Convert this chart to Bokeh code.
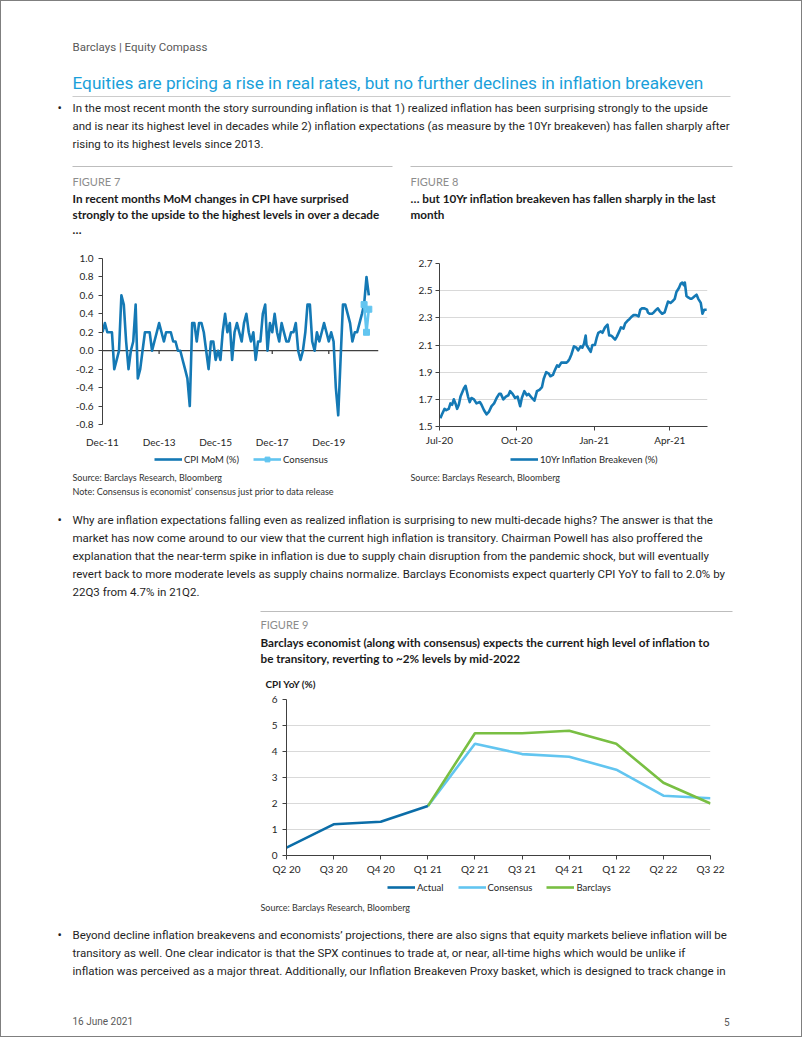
from bokeh.plotting import figure
from bokeh.layouts import column, row
from bokeh.models import (Range1d, FixedTicker, DatetimeTickFormatter, NumeralTickFormatter,
                          Legend, LegendItem, Span)
from bokeh.core.properties import value
from bokeh.embed import file_html
from bokeh.resources import INLINE
import pandas as pd

# ---------------- data ----------------
# Figure 7: CPI MoM (%), monthly from Dec-11
cpi_start = "2011-12-01"
cpi_mom = [0.2,
           0.3, 0.2, 0.2, 0.2, -0.2, -0.1, 0.0, 0.6, 0.5, 0.1, -0.2, 0.0,
           0.1, 0.5, -0.3, -0.2, 0.0, 0.2, 0.2, 0.2, 0.0, 0.1, 0.2, 0.3,
           0.2, 0.1, 0.2, 0.2, 0.2, 0.1, 0.1, 0.0, 0.0, -0.1, -0.2, -0.3,
           -0.6, 0.3, 0.3, 0.1, 0.3, 0.3, 0.2, 0.0, -0.2, 0.1, 0.1, -0.1,
           0.0, -0.1, 0.2, 0.4, 0.2, 0.3, -0.1, 0.2, 0.3, 0.2, 0.1, 0.3,
           0.4, 0.2, 0.1, 0.2, -0.1, 0.1, 0.1, 0.4, 0.5, 0.0, 0.3, 0.2,
           0.4, 0.2, 0.1, 0.3, 0.2, 0.1, 0.1, 0.2, 0.2, 0.3, 0.0, -0.1,
           0.0, 0.2, 0.5, 0.5, 0.1, 0.0, 0.2, 0.1, 0.2, 0.3, 0.2, 0.1,
           0.2, 0.1, -0.4, -0.7, -0.1, 0.5, 0.5, 0.4, 0.3, 0.1, 0.2, 0.2,
           0.3, 0.4, 0.5, 0.8, 0.6]
consensus_months = ["2021-03-01", "2021-04-01", "2021-05-01"]
consensus_mom = [0.5, 0.2, 0.45]
cpi_xticks = ["2011-12-01", "2013-12-01", "2015-12-01", "2017-12-01", "2019-12-01"]
cpi_yticks = [-0.8, -0.6, -0.4, -0.2, 0.0, 0.2, 0.4, 0.6, 0.8, 1.0]

# Figure 8: 10Yr inflation breakeven (%)
be_dates = ["2020-07-02", "2020-07-04", "2020-07-07", "2020-07-09", "2020-07-12", "2020-07-14",
            "2020-07-16", "2020-07-18", "2020-07-20", "2020-07-22", "2020-07-24", "2020-07-26",
            "2020-07-30", "2020-08-01", "2020-08-04", "2020-08-06", "2020-08-08", "2020-08-11",
            "2020-08-14", "2020-08-18", "2020-08-20", "2020-08-23", "2020-08-26", "2020-08-29",
            "2020-09-01", "2020-09-04", "2020-09-07", "2020-09-10", "2020-09-12", "2020-09-15",
            "2020-09-18", "2020-09-21", "2020-09-23", "2020-09-26", "2020-09-29", "2020-10-02",
            "2020-10-05", "2020-10-07", "2020-10-10", "2020-10-13", "2020-10-15", "2020-10-19",
            "2020-10-22", "2020-10-25", "2020-10-28", "2020-10-31", "2020-11-02", "2020-11-05",
            "2020-11-08", "2020-11-10", "2020-11-13", "2020-11-15", "2020-11-18", "2020-11-20",
            "2020-11-23", "2020-11-25", "2020-11-29", "2020-12-01", "2020-12-03", "2020-12-05",
            "2020-12-08", "2020-12-11", "2020-12-13", "2020-12-16", "2020-12-18", "2020-12-20",
            "2020-12-22", "2020-12-23", "2020-12-25", "2020-12-28", "2020-12-30", "2021-01-02",
            "2021-01-04", "2021-01-06", "2021-01-09", "2021-01-11", "2021-01-14", "2021-01-17",
            "2021-01-19", "2021-01-21", "2021-01-23", "2021-01-26", "2021-01-28", "2021-01-31",
            "2021-02-02", "2021-02-05", "2021-02-07", "2021-02-10", "2021-02-12", "2021-02-15",
            "2021-02-17", "2021-02-20", "2021-02-23", "2021-02-25", "2021-02-27", "2021-03-02",
            "2021-03-05", "2021-03-06", "2021-03-08", "2021-03-11", "2021-03-13", "2021-03-16",
            "2021-03-18", "2021-03-20", "2021-03-23", "2021-03-26", "2021-03-28", "2021-03-30",
            "2021-04-02", "2021-04-04", "2021-04-07", "2021-04-09", "2021-04-12", "2021-04-14",
            "2021-04-16", "2021-04-18", "2021-04-19", "2021-04-21", "2021-04-23", "2021-04-26",
            "2021-04-27", "2021-04-29", "2021-05-01", "2021-05-03", "2021-05-05", "2021-05-08",
            "2021-05-10", "2021-05-12", "2021-05-15"]
be_values = [1.56, 1.59, 1.63, 1.62, 1.63, 1.67,
             1.66, 1.70, 1.67, 1.63, 1.66, 1.72,
             1.78, 1.80, 1.72, 1.68, 1.71, 1.70,
             1.67, 1.68, 1.66, 1.62, 1.59, 1.61,
             1.65, 1.67, 1.71, 1.74, 1.74, 1.70,
             1.72, 1.73, 1.76, 1.74, 1.71, 1.72,
             1.65, 1.71, 1.76, 1.73, 1.74, 1.71,
             1.69, 1.76, 1.77, 1.79, 1.85, 1.90,
             1.89, 1.87, 1.88, 1.91, 1.95, 1.94,
             1.97, 1.97, 1.97, 1.98, 2.00, 2.03,
             2.09, 2.08, 2.06, 2.09, 2.08, 2.11,
             2.17, 2.10, 2.08, 2.05, 2.10, 2.10,
             2.15, 2.19, 2.20, 2.19, 2.23, 2.25,
             2.17, 2.17, 2.16, 2.14, 2.16, 2.20,
             2.23, 2.22, 2.26, 2.28, 2.29, 2.31,
             2.32, 2.32, 2.31, 2.36, 2.37, 2.37,
             2.36, 2.34, 2.33, 2.33, 2.34, 2.36,
             2.37, 2.35, 2.33, 2.34, 2.38, 2.42,
             2.41, 2.42, 2.44, 2.49, 2.52, 2.55,
             2.56, 2.54, 2.56, 2.46, 2.45, 2.44,
             2.44, 2.45, 2.46, 2.47, 2.44, 2.41,
             2.33, 2.36, 2.36]
be_xticks = ["2020-07-01", "2020-10-01", "2021-01-01", "2021-04-01"]
be_yticks = [1.5, 1.7, 1.9, 2.1, 2.3, 2.5, 2.7]

# Figure 9: CPI YoY (%)
quarters = ["Q2 20", "Q3 20", "Q4 20", "Q1 21", "Q2 21", "Q3 21", "Q4 21", "Q1 22", "Q2 22", "Q3 22"]
actual_q = ["Q2 20", "Q3 20", "Q4 20", "Q1 21"]
actual = [0.3, 1.2, 1.3, 1.9]
forecast_q = ["Q1 21", "Q2 21", "Q3 21", "Q4 21", "Q1 22", "Q2 22", "Q3 22"]
consensus = [1.9, 4.3, 3.9, 3.8, 3.3, 2.3, 2.2]
barclays = [1.9, 4.7, 4.7, 4.8, 4.3, 2.8, 2.0]
yoy_yticks = [0, 1, 2, 3, 4, 5, 6]

# ---------------- texts ----------------
HEADER = "Barclays | Equity Compass"
TITLE = "Equities are pricing a rise in real rates, but no further declines in inflation breakeven"
P1 = ["In the most recent month the story surrounding inflation is that 1) realized inflation has been surprising strongly to the upside",
      "and is near its highest level in decades while 2) inflation expectations (as measure by the 10Yr breakeven) has fallen sharply after",
      "rising to its highest levels since 2013."]
FIG7_TITLE = ["In recent months MoM changes in CPI have surprised",
              "strongly to the upside to the highest levels in over a decade",
              "\u2026"]
FIG8_TITLE = ["\u2026 but 10Yr inflation breakeven has fallen sharply in the last", "month"]
SOURCE = "Source: Barclays Research, Bloomberg"
NOTE7 = "Note: Consensus is economist\u2019 consensus just prior to data release"
P2 = ["Why are inflation expectations falling even as realized inflation is surprising to new multi-decade highs? The answer is that the",
      "market has now come around to our view that the current high inflation is transitory. Chairman Powell has also proffered the",
      "explanation that the near-term spike in inflation is due to supply chain disruption from the pandemic shock, but will eventually",
      "revert back to more moderate levels as supply chains normalize. Barclays Economists expect quarterly CPI YoY to fall to 2.0% by",
      "22Q3 from 4.7% in 21Q2."]
FIG9_TITLE = ["Barclays economist (along with consensus) expects the current high level of inflation to",
              "be transitory, reverting to ~2% levels by mid-2022"]
P3 = ["Beyond decline inflation breakevens and economists\u2019 projections, there are also signs that equity markets believe inflation will be",
      "transitory as well. One clear indicator is that the SPX continues to trade at, or near, all-time highs which would be unlike if",
      "inflation was perceived as a major threat. Additionally, our Inflation Breakeven Proxy basket, which is designed to track change in"]
DATE = "16 June 2021"
PAGE = "5"

# ---------------- styles ----------------
BODY = "Roboto"
CH = "Lato"
TXT = "#1f1f1f"
BLUE = "#1479B5"
DARK_BLUE = "#0B6DA8"
LIGHT_BLUE = "#62C5F0"
GREEN = "#79BF43"
AXIS = "#404040"
GRID = "#D9D9D9"
BODY_SIZE = "11.5px"
FIGT_SIZE = "11.7px"
LW = 2.6
OFF = [-50, -40]   # legend proxy glyphs sit outside the visible canvas


def text_fig(w, h):
    p = figure(width=w, height=h, x_range=Range1d(0, w), y_range=Range1d(h, 0),
               output_backend="svg", toolbar_location=None, min_border=0,
               x_axis_location=None, y_axis_location=None, frame_align=False)
    p.grid.visible = False
    p.outline_line_color = None
    p.background_fill_color = None
    p.border_fill_color = None
    return p


def put(p, xs, ys, texts, font, size, color, style="normal", align="left"):
    p.text(x=xs, y=ys, text=texts, text_font=value(font), text_font_size=size,
           text_color=color, text_font_style=style, text_align=align,
           text_baseline="middle")


def style_axes(p):
    p.grid.visible = False
    p.outline_line_color = None
    p.background_fill_color = None
    p.border_fill_color = None
    p.axis.major_label_text_font = CH
    p.axis.major_label_text_font_size = "10px"
    p.axis.major_label_text_color = "#262626"
    p.axis.axis_line_color = AXIS
    p.axis.major_tick_line_color = AXIS
    p.axis.minor_tick_line_color = None
    p.axis.major_tick_in = 0
    p.axis.major_tick_out = 4


def make_legend(items, loc):
    return Legend(items=items, orientation="horizontal", location=loc,
                  border_line_color=None, background_fill_alpha=0, padding=0, margin=0,
                  spacing=14, label_standoff=2, glyph_width=28, glyph_height=12,
                  label_height=12, label_text_font=CH, label_text_font_size="9.5px",
                  label_text_color="#262626")


def proxy_line(p, color):
    return p.line(x=OFF, y=OFF, line_color=color, line_width=LW)


def ms(d):
    return pd.Timestamp(d).value / 1e6


# ---------------- section A (0-250): header / paragraph / figure 7-8 titles ----------------
A = text_fig(802, 250)
put(A, [72], [46], [HEADER], BODY, "11.5px", "#595959")
put(A, [72], [82], [TITLE], BODY, "17.2px", "#1A9FDA")
A.segment(x0=[72], y0=[96], x1=[730], y1=[96], line_color="#cccccc", line_width=1)
put(A, [57], [107], ["\u2022"], BODY, "13px", TXT)
put(A, [72] * 3, [107, 125, 143], P1, BODY, BODY_SIZE, TXT)
A.segment(x0=[72, 410], y0=[166, 166], x1=[392, 732], y1=[166, 166], line_color="#bdbdbd", line_width=1)
put(A, [72, 410], [181, 181], ["FIGURE 7", "FIGURE 8"], CH, "11px", "#8c8c8c")
put(A, [72] * 3, [197, 213, 228], FIG7_TITLE, CH, FIGT_SIZE, "#1a1a1a", "bold")
put(A, [410] * 2, [197, 213], FIG8_TITLE, CH, FIGT_SIZE, "#1a1a1a", "bold")

# ---------------- Figure 7 (250-450, left) ----------------
cpi_dates = pd.date_range(cpi_start, periods=len(cpi_mom), freq="MS")
p7 = figure(width=401, height=200, x_axis_type="datetime",
            x_range=Range1d(pd.Timestamp(cpi_start), pd.Timestamp("2021-09-03")),
            y_range=Range1d(-0.8, 1.0), output_backend="svg", toolbar_location=None,
            min_border_left=102, min_border_right=23, min_border_top=8, min_border_bottom=20,
            frame_align=False)
style_axes(p7)
p7.xaxis.ticker = FixedTicker(ticks=[ms(t) for t in cpi_xticks])
p7.xaxis.formatter = DatetimeTickFormatter(years="%b-%y", months="%b-%y", days="%b-%y")
p7.xaxis.axis_line_color = None
p7.xaxis.major_tick_line_color = None
p7.xaxis.major_label_standoff = 7
p7.yaxis.ticker = FixedTicker(ticks=cpi_yticks)
p7.yaxis.formatter = NumeralTickFormatter(format="0.0")
p7.yaxis.major_label_standoff = 5
zero = Span(location=0, dimension="width", line_color=AXIS, line_width=1.3, level="underlay")
p7.add_layout(zero)
tick_x = [pd.Timestamp(t) for t in cpi_xticks[1:]]
p7.segment(x0=tick_x, y0=[0] * len(tick_x), x1=tick_x, y1=[-0.035] * len(tick_x),
           line_color=AXIS, line_width=1.3)
p7.line(cpi_dates, cpi_mom, line_color=BLUE, line_width=LW, line_join="round")
cons_dates = pd.to_datetime(consensus_months)
p7.line(cons_dates, consensus_mom, line_color=LIGHT_BLUE, line_width=LW)
p7.scatter(cons_dates, consensus_mom, marker="square", size=6,
           fill_color=LIGHT_BLUE, line_color=LIGHT_BLUE)

# ---------------- Figure 8 (250-450, right) ----------------
p8 = figure(width=401, height=200, x_axis_type="datetime",
            x_range=Range1d(pd.Timestamp("2020-07-01"), pd.Timestamp("2021-05-16")),
            y_range=Range1d(1.5, 2.7), output_backend="svg", toolbar_location=None,
            min_border_left=38, min_border_right=95, min_border_top=13, min_border_bottom=24,
            frame_align=False)
style_axes(p8)
p8.ygrid.visible = True
p8.ygrid.grid_line_color = GRID
p8.xaxis.ticker = FixedTicker(ticks=[ms(t) for t in be_xticks])
p8.xaxis.formatter = DatetimeTickFormatter(years="%b-%y", months="%b-%y", days="%b-%y")
p8.xaxis.major_label_standoff = 3
p8.yaxis.ticker = FixedTicker(ticks=be_yticks)
p8.yaxis.formatter = NumeralTickFormatter(format="0.0")
p8.yaxis.major_label_standoff = 3
p8.line(pd.to_datetime(be_dates), be_values, line_color=BLUE, line_width=LW, line_join="round")

# ---------------- section C (450-665): legends 7/8, sources, paragraph 2, figure 9 title ----------------
C = text_fig(802, 215)
k_cpi = proxy_line(C, BLUE)
k_cons_l = proxy_line(C, LIGHT_BLUE)
k_cons_m = C.scatter(x=OFF, y=OFF, marker="square", size=6, fill_color=LIGHT_BLUE, line_color=LIGHT_BLUE)
k_be = proxy_line(C, BLUE)
C.add_layout(make_legend([LegendItem(label="CPI MoM (%)", renderers=[k_cpi]),
                          LegendItem(label="Consensus", renderers=[k_cons_l, k_cons_m])], (154, 200)))
C.add_layout(make_legend([LegendItem(label="10Yr Inflation Breakeven (%)", renderers=[k_be])], (510, 200)))
put(C, [72, 410], [27, 27], [SOURCE, SOURCE], CH, "9px", "#333333")
put(C, [72], [41], [NOTE7], CH, "9px", "#333333")
put(C, [57], [69], ["\u2022"], BODY, "13px", TXT)
put(C, [72] * 5, [69, 87, 105, 123, 141], P2, BODY, BODY_SIZE, TXT)
C.segment(x0=[260], y0=[161], x1=[732], y1=[161], line_color="#bdbdbd", line_width=1)
put(C, [260], [174], ["FIGURE 9"], CH, "11px", "#8c8c8c")
put(C, [260] * 2, [191, 207], FIG9_TITLE, CH, FIGT_SIZE, "#1a1a1a", "bold")

# ---------------- Figure 9 (665-880) ----------------
p9 = figure(width=802, height=215, x_range=Range1d(0, len(quarters) - 1), y_range=Range1d(0, 6),
            output_backend="svg", toolbar_location=None, title="CPI YoY (%)",
            min_border_left=286, min_border_right=92, min_border_top=34, min_border_bottom=25,
            frame_align=False)
style_axes(p9)
p9.ygrid.visible = True
p9.ygrid.grid_line_color = GRID
p9.title.text_font = CH
p9.title.text_font_size = "10px"
p9.title.text_font_style = "bold"
p9.title.text_color = "#1a1a1a"
p9.title.align = "left"
p9.title.offset = -21
p9.title.standoff = 19
p9.xaxis.ticker = FixedTicker(ticks=list(range(len(quarters))))
p9.xaxis.major_label_overrides = {i: q for i, q in enumerate(quarters)}
p9.xaxis.major_label_standoff = 3
p9.yaxis.ticker = FixedTicker(ticks=yoy_yticks)
p9.yaxis.major_label_standoff = 5
xa = [quarters.index(q) for q in actual_q]
xf = [quarters.index(q) for q in forecast_q]
p9.line(xf, consensus, line_color=LIGHT_BLUE, line_width=LW)
p9.line(xf, barclays, line_color=GREEN, line_width=LW)
p9.line(xa, actual, line_color=DARK_BLUE, line_width=LW)

# ---------------- section E (880-1037): legend 9, source, paragraph 3, footer ----------------
E = text_fig(802, 157)
k_a = proxy_line(E, DARK_BLUE)
k_c = proxy_line(E, LIGHT_BLUE)
k_b = proxy_line(E, GREEN)
E.add_layout(make_legend([LegendItem(label="Actual", renderers=[k_a]),
                          LegendItem(label="Consensus", renderers=[k_c]),
                          LegendItem(label="Barclays", renderers=[k_b])], (387, 144)))
put(E, [260], [27], [SOURCE], CH, "9px", "#333333")
put(E, [57], [54], ["\u2022"], BODY, "13px", TXT)
put(E, [72] * 3, [54, 72, 90], P3, BODY, BODY_SIZE, TXT)
put(E, [72], [141], [DATE], BODY, "10px", "#595959")
put(E, [729], [141], [PAGE], BODY, "10px", "#595959", align="right")

page = column(A, row(p7, p8, spacing=0), C, p9, E, spacing=0,
              styles={"outline": "1px solid #7f7f7f", "outline-offset": "-1px"})

open("out.html", "w").write(file_html(page, INLINE))
